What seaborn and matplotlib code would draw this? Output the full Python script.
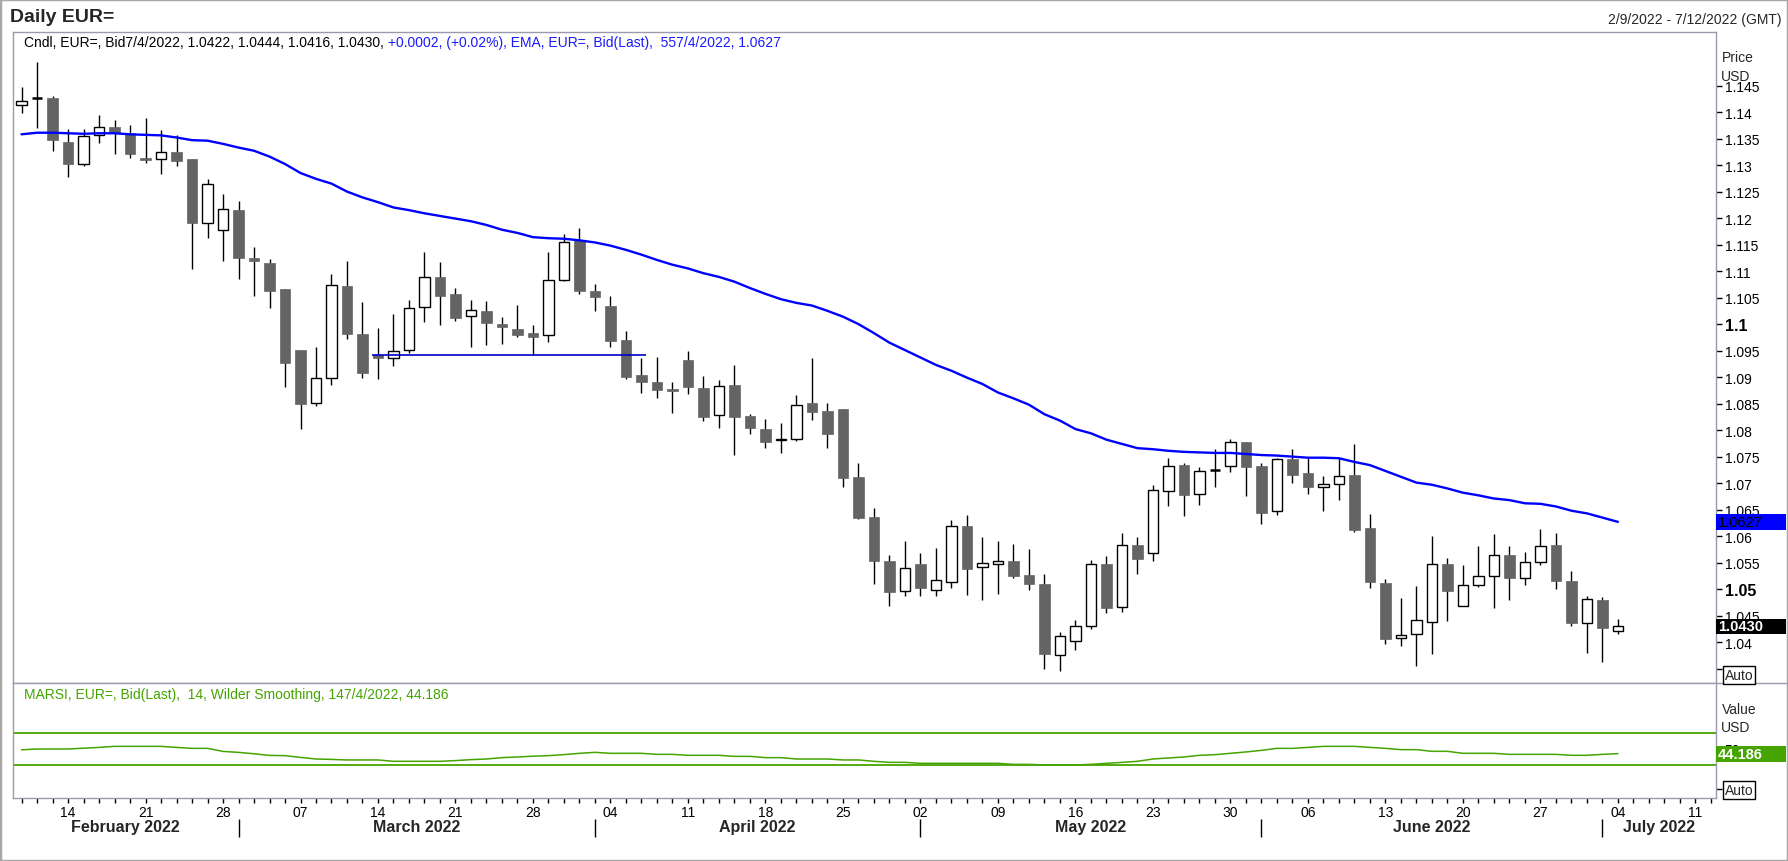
import numpy as np
import pandas as pd
import matplotlib
matplotlib.use("Agg")
import matplotlib.pyplot as plt
import matplotlib.transforms as mtransforms
from matplotlib.patches import Rectangle
from matplotlib.lines import Line2D
import seaborn as sns

# EUR= daily bid candles, 9 Feb 2022 - 4 Jul 2022
opens = [1.1414, 1.1426, 1.1426, 1.1343, 1.1302, 1.1357, 1.1371, 1.1360, 1.1313, 1.1311,
         1.1324, 1.1311, 1.1190, 1.1177, 1.1215, 1.1125, 1.1115, 1.1066, 1.0951, 1.0852,
         1.0899, 1.1072, 1.0981, 1.0941, 1.0937, 1.0952, 1.1033, 1.1088, 1.1056, 1.1015,
         1.1025, 1.1001, 1.0991, 1.0983, 1.0979, 1.1084, 1.1159, 1.1062, 1.1034, 1.0970,
         1.0904, 1.0890, 1.0877, 1.0932, 1.0879, 1.0828, 1.0885, 1.0827, 1.0802, 1.0781,
         1.0784, 1.0851, 1.0836, 1.0840, 1.0711, 1.0636, 1.0554, 1.0496, 1.0547, 1.0499,
         1.0513, 1.0620, 1.0541, 1.0548, 1.0554, 1.0526, 1.0509, 1.0375, 1.0403, 1.0431,
         1.0547, 1.0467, 1.0583, 1.0569, 1.0686, 1.0734, 1.0680, 1.0725, 1.0733, 1.0777,
         1.0732, 1.0647, 1.0745, 1.0719, 1.0692, 1.0698, 1.0715, 1.0615, 1.0511, 1.0407,
         1.0415, 1.0438, 1.0547, 1.0469, 1.0507, 1.0524, 1.0564, 1.0522, 1.0552, 1.0583,
         1.0515, 1.0437, 1.0480, 1.0422]
highs = [1.1447, 1.1494, 1.1430, 1.1368, 1.1368, 1.1394, 1.1385, 1.1375, 1.1389, 1.1366,
         1.1357, 1.1312, 1.1274, 1.1245, 1.1232, 1.1145, 1.1123, 1.1066, 1.0951, 1.0957,
         1.1094, 1.1119, 1.1042, 1.0992, 1.1019, 1.1045, 1.1136, 1.1117, 1.1068, 1.1045,
         1.1043, 1.1013, 1.1036, 1.0998, 1.1136, 1.1170, 1.1182, 1.1075, 1.1053, 1.0987,
         1.0936, 1.0938, 1.0891, 1.0949, 1.0902, 1.0894, 1.0923, 1.0831, 1.0821, 1.0813,
         1.0866, 1.0936, 1.0851, 1.0840, 1.0738, 1.0653, 1.0564, 1.0591, 1.0568, 1.0577,
         1.0630, 1.0640, 1.0598, 1.0591, 1.0585, 1.0575, 1.0528, 1.0419, 1.0442, 1.0555,
         1.0562, 1.0606, 1.0598, 1.0696, 1.0748, 1.0738, 1.0730, 1.0764, 1.0784, 1.0778,
         1.0738, 1.0747, 1.0764, 1.0748, 1.0713, 1.0747, 1.0774, 1.0642, 1.0519, 1.0483,
         1.0506, 1.0600, 1.0558, 1.0545, 1.0581, 1.0604, 1.0581, 1.0570, 1.0613, 1.0606,
         1.0534, 1.0487, 1.0485, 1.0444]
lows = [1.1399, 1.1369, 1.1327, 1.1277, 1.1299, 1.1342, 1.1320, 1.1313, 1.1303, 1.1284,
        1.1299, 1.1104, 1.1163, 1.1119, 1.1086, 1.1053, 1.1031, 1.0882, 1.0803, 1.0846,
        1.0886, 1.0972, 1.0899, 1.0897, 1.0921, 1.0946, 1.1004, 1.0999, 1.1006, 1.0957,
        1.0961, 1.0963, 1.0976, 1.0941, 1.0967, 1.1081, 1.1057, 1.1025, 1.0957, 1.0897,
        1.0870, 1.0861, 1.0833, 1.0868, 1.0818, 1.0804, 1.0753, 1.0793, 1.0767, 1.0757,
        1.0780, 1.0820, 1.0767, 1.0693, 1.0632, 1.0509, 1.0469, 1.0487, 1.0487, 1.0487,
        1.0503, 1.0489, 1.0480, 1.0491, 1.0521, 1.0499, 1.0350, 1.0346, 1.0386, 1.0425,
        1.0455, 1.0457, 1.0529, 1.0553, 1.0657, 1.0638, 1.0659, 1.0693, 1.0721, 1.0676,
        1.0623, 1.0640, 1.0701, 1.0680, 1.0648, 1.0669, 1.0607, 1.0503, 1.0397, 1.0393,
        1.0355, 1.0378, 1.0440, 1.0468, 1.0504, 1.0465, 1.0480, 1.0508, 1.0546, 1.0501,
        1.0431, 1.0380, 1.0363, 1.0416]
closes = [1.1420, 1.1426, 1.1348, 1.1302, 1.1354, 1.1371, 1.1360, 1.1320, 1.1309, 1.1324,
          1.1308, 1.1190, 1.1265, 1.1218, 1.1125, 1.1119, 1.1063, 1.0926, 1.0850, 1.0898,
          1.1073, 1.0982, 1.0908, 1.0936, 1.0950, 1.1031, 1.1088, 1.1053, 1.1012, 1.1026,
          1.1003, 1.0995, 1.0980, 1.0976, 1.1084, 1.1154, 1.1063, 1.1052, 1.0969, 1.0901,
          1.0891, 1.0876, 1.0874, 1.0882, 1.0825, 1.0884, 1.0825, 1.0804, 1.0778, 1.0784,
          1.0848, 1.0835, 1.0793, 1.0709, 1.0635, 1.0553, 1.0494, 1.0539, 1.0503, 1.0518,
          1.0620, 1.0538, 1.0550, 1.0554, 1.0525, 1.0510, 1.0378, 1.0411, 1.0430, 1.0547,
          1.0465, 1.0584, 1.0557, 1.0688, 1.0733, 1.0677, 1.0722, 1.0725, 1.0777, 1.0730,
          1.0644, 1.0745, 1.0716, 1.0693, 1.0698, 1.0713, 1.0612, 1.0514, 1.0406, 1.0413,
          1.0441, 1.0547, 1.0497, 1.0507, 1.0524, 1.0564, 1.0521, 1.0552, 1.0582, 1.0516,
          1.0437, 1.0481, 1.0427, 1.0430]

# 55 day EMA as drawn
ema = [1.1358, 1.1361, 1.1361, 1.1360, 1.1359, 1.1360, 1.1360, 1.1358, 1.1357, 1.1356,
       1.1352, 1.1347, 1.1346, 1.1340, 1.1333, 1.1327, 1.1316, 1.1302, 1.1285, 1.1274,
       1.1265, 1.1250, 1.1239, 1.1230, 1.1220, 1.1215, 1.1209, 1.1204, 1.1199, 1.1194,
       1.1187, 1.1178, 1.1172, 1.1164, 1.1162, 1.1161, 1.1158, 1.1154, 1.1148, 1.1140,
       1.1131, 1.1121, 1.1112, 1.1105, 1.1096, 1.1089, 1.1080, 1.1068, 1.1057, 1.1047,
       1.1040, 1.1035, 1.1025, 1.1014, 1.1000, 1.0983, 1.0965, 1.0951, 1.0937, 1.0923,
       1.0912, 1.0899, 1.0887, 1.0871, 1.0860, 1.0848, 1.0830, 1.0818, 1.0802, 1.0794,
       1.0782, 1.0774, 1.0766, 1.0764, 1.0761, 1.0759, 1.0758, 1.0757, 1.0757, 1.0755,
       1.0753, 1.0752, 1.0750, 1.0748, 1.0748, 1.0747, 1.0740, 1.0734, 1.0723, 1.0712,
       1.0701, 1.0697, 1.0690, 1.0682, 1.0677, 1.0671, 1.0668, 1.0662, 1.0661, 1.0656,
       1.0648, 1.0643, 1.0635, 1.0627]

# MA RSI (14, Wilder)
marsi = [49.0, 50.0, 50.0, 50.0, 51.0, 52.0, 53.3, 53.3, 53.3, 53.3,
         52.0, 50.8, 50.8, 47.0, 45.8, 44.0, 42.0, 41.7, 39.5, 37.5,
         37.0, 36.3, 36.3, 36.3, 34.6, 34.6, 34.6, 34.6, 35.5, 36.7,
         37.5, 39.2, 40.0, 41.0, 41.7, 43.0, 44.6, 45.8, 44.6, 44.6,
         44.6, 43.3, 43.3, 42.1, 42.1, 42.1, 40.8, 40.8, 39.2, 39.2,
         37.5, 37.5, 37.5, 36.3, 36.3, 34.6, 33.3, 33.3, 32.1, 32.1,
         32.1, 32.1, 32.1, 32.1, 30.8, 30.8, 30.0, 30.0, 30.0, 30.8,
         32.1, 33.3, 34.6, 37.5, 38.8, 40.0, 42.1, 42.9, 44.6, 46.3,
         48.3, 50.8, 50.8, 52.0, 53.3, 53.3, 53.3, 52.0, 50.8, 49.2,
         49.2, 47.1, 47.1, 44.6, 44.6, 44.6, 43.3, 43.3, 43.3, 43.3,
         42.1, 42.1, 43.3, 44.186]
rsi_levels = [70, 30]

# support line drawn on the chart (start idx, end idx, level)
support_line = [22.6, 40.3, 1.0941]

price_ticks = np.round(np.arange(1.035, 1.1451, 0.005), 3)
last_close = 1.0430
last_ema = 1.0627
last_rsi = 44.186

start_day, end_day = "2022-02-09", "2022-07-12"

# ---------------------------------------------------------------
W, H = 1788, 862
spine_col = "#9a9aae"
green = "#45a400"
dark = "#646464"

sns.set_style("white")
plt.rcParams['font.family'] = ['Liberation Sans', 'DejaVu Sans']

fig = plt.figure(figsize=(W / 100, H / 100), dpi=100)
fig.patch.set_facecolor("white")

left, right = 13, 1716
ax = fig.add_axes([left / W, 1 - 684 / H, (right - left) / W, (684 - 33) / H])
ax2 = fig.add_axes([left / W, 1 - 799 / H, (right - left) / W, (799 - 684) / H])

days = pd.bdate_range(start_day, end_day)
x = np.arange(len(closes))
o = np.array(opens); c = np.array(closes)
h = np.array(highs); l = np.array(lows)
up = c > o
down = c < o
flat = c == o

xlim = (-0.55, 109.33)

# candles
ax.vlines(x, l, h, color="black", lw=1, zorder=2)
ax.bar(x[up], (c - o)[up], bottom=o[up], width=0.68, color="white",
       edgecolor="black", linewidth=1, zorder=3)
ax.bar(x[down], (o - c)[down], bottom=c[down], width=0.68, color=dark,
       edgecolor=dark, linewidth=0.5, zorder=3)
ax.hlines(o[flat], x[flat] - 0.34, x[flat] + 0.34, color="black", lw=1.8, zorder=3)

sns.lineplot(x=x, y=ema, ax=ax, color="#0000ff", lw=1.7, zorder=4)
ax.hlines(support_line[2], support_line[0], support_line[1], color="#0000c8", lw=1.2, zorder=4)

ax.set_xlim(*xlim)
ax.set_ylim(1.0323, 1.1551)
ax.set_xlabel(""); ax.set_ylabel("")
ax.tick_params(axis="x", which="both", bottom=False, labelbottom=False)
ax.yaxis.tick_right()
ax.set_yticks(price_ticks)
ax.set_yticklabels(["" if np.isclose(t, 1.035) else f"{t:g}" for t in price_ticks])
ax.tick_params(axis="y", direction="out", length=4.3, width=1, pad=2, labelsize=10,
               colors="black", right=True)
for lab, t in zip(ax.get_yticklabels(), price_ticks):
    if np.isclose(t, 1.1) or np.isclose(t, 1.05):
        lab.set_fontweight("bold")
        lab.set_fontsize(11.5)

# rsi panel
sns.lineplot(x=x, y=marsi, ax=ax2, color=green, lw=1.1, zorder=3)
for lv in rsi_levels:
    ax2.axhline(lv, color=green, lw=1.3, zorder=2)
ax2.set_xlim(*xlim)
ax2.set_ylim(-11.25, 132.5)
ax2.set_xlabel(""); ax2.set_ylabel("")
ax2.yaxis.tick_right()
ax2.set_yticks([0, 50])
ax2.set_yticklabels(["", "50"])
ax2.tick_params(axis="y", direction="out", length=4.3, width=1, pad=2, labelsize=10,
                colors="black", right=True)

mondays = [i for i, d in enumerate(days) if d.weekday() == 0]
ax2.set_xticks(mondays)
ax2.set_xticklabels([days[i].strftime("%d") for i in mondays])
ax2.set_xticks(np.arange(len(days)), minor=True)
ax2.tick_params(axis="x", which="both", direction="out", length=3.5, width=1,
                colors="black", labelsize=10, pad=1.5, bottom=True)

# month labels and separators
month_start = [i for i in range(1, len(days)) if days[i].month != days[i - 1].month]
edges = [xlim[0]] + month_start + [xlim[1]]
trans = ax2.get_xaxis_transform()
ax2.vlines(month_start, -0.339, -0.183, transform=trans, color="black", lw=1, clip_on=False)
for a, b in zip(edges[:-1], edges[1:]):
    d = days[min(int(np.ceil(a)) if a >= 0 else 0, len(days) - 1)]
    ax2.text((a + b) / 2, -0.252, d.strftime("%B %Y"), transform=trans, ha="center",
             va="center", fontsize=11.5, fontweight="bold", clip_on=False)

for a in (ax, ax2):
    for s in a.spines.values():
        s.set_color(spine_col)
        s.set_linewidth(1)
        s.set_visible(True)


def value_box(axis, yval, text, bg, fg, weight, hpx):
    y0, y1 = axis.get_ylim()
    hh = hpx * (y1 - y0) / (axis.get_position().height * H)
    blend = mtransforms.blended_transform_factory(axis.transAxes, axis.transData)
    wfrac = (1786 - right) / (right - left)
    axis.add_patch(Rectangle((1.0, yval - hh / 2), wfrac, hh, transform=blend,
                             facecolor=bg, edgecolor="none", clip_on=False, zorder=10))
    axis.text(1.001, yval, text, transform=blend, ha="left", va="center", color=fg,
              fontsize=10.5, fontweight=weight, clip_on=False, zorder=11)


value_box(ax, last_ema, f"{last_ema:.4f}", "#0000ff", "black", "normal", 16)
value_box(ax, last_close, f"{last_close:.4f}", "black", "white", "bold", 15)
value_box(ax2, last_rsi, f"{last_rsi:.3f}", green, "white", "bold", 16)

# header and labels
fig.text(10 / W, 1 - 17 / H, "Daily EUR=", fontsize=14, fontweight="bold", va="center")
fig.text(1782 / W, 1 - 20 / H, f"{pd.Timestamp(start_day).month}/{pd.Timestamp(start_day).day}/2022 - "
         f"{pd.Timestamp(end_day).month}/{pd.Timestamp(end_day).day}/2022 (GMT)",
         fontsize=10, ha="right", va="center")
t1 = fig.text(24 / W, 1 - 43 / H, "Cndl, EUR=, Bid7/4/2022, 1.0422, 1.0444, 1.0416, 1.0430, ",
              fontsize=10, va="center", color="black")
ax.annotate("+0.0002, (+0.02%), EMA, EUR=, Bid(Last),  557/4/2022, 1.0627", xy=(1, 0.5),
            xycoords=t1, va="center", ha="left", fontsize=10, color="#1a1aff",
            annotation_clip=False)
fig.text(24 / W, 1 - 695 / H, "MARSI, EUR=, Bid(Last),  14, Wilder Smoothing, 147/4/2022, 44.186",
         fontsize=10, va="center", color=green)

fig.text(1722 / W, 1 - 58 / H, "Price", fontsize=10, va="center")
fig.text(1721 / W, 1 - 77 / H, "USD", fontsize=10, va="center")
fig.text(1722 / W, 1 - 710 / H, "Value", fontsize=10, va="center")
fig.text(1721 / W, 1 - 728 / H, "USD", fontsize=10, va="center")
box = dict(boxstyle="square,pad=0.12", fc="white", ec="black", lw=1)
fig.text(1725 / W, 1 - 676 / H, "Auto", fontsize=10, va="center", bbox=box)
fig.text(1725 / W, 1 - 791 / H, "Auto", fontsize=10, va="center", bbox=box)

fig.add_artist(Line2D([right / W, 1], [1 - 684 / H] * 2, color=spine_col, lw=1))
fig.add_artist(Rectangle((0, 0), 1, 1, transform=fig.transFigure, fill=False,
                         edgecolor="#a8a8a8", lw=2.5))

fig.savefig("out.png", dpi=100)
